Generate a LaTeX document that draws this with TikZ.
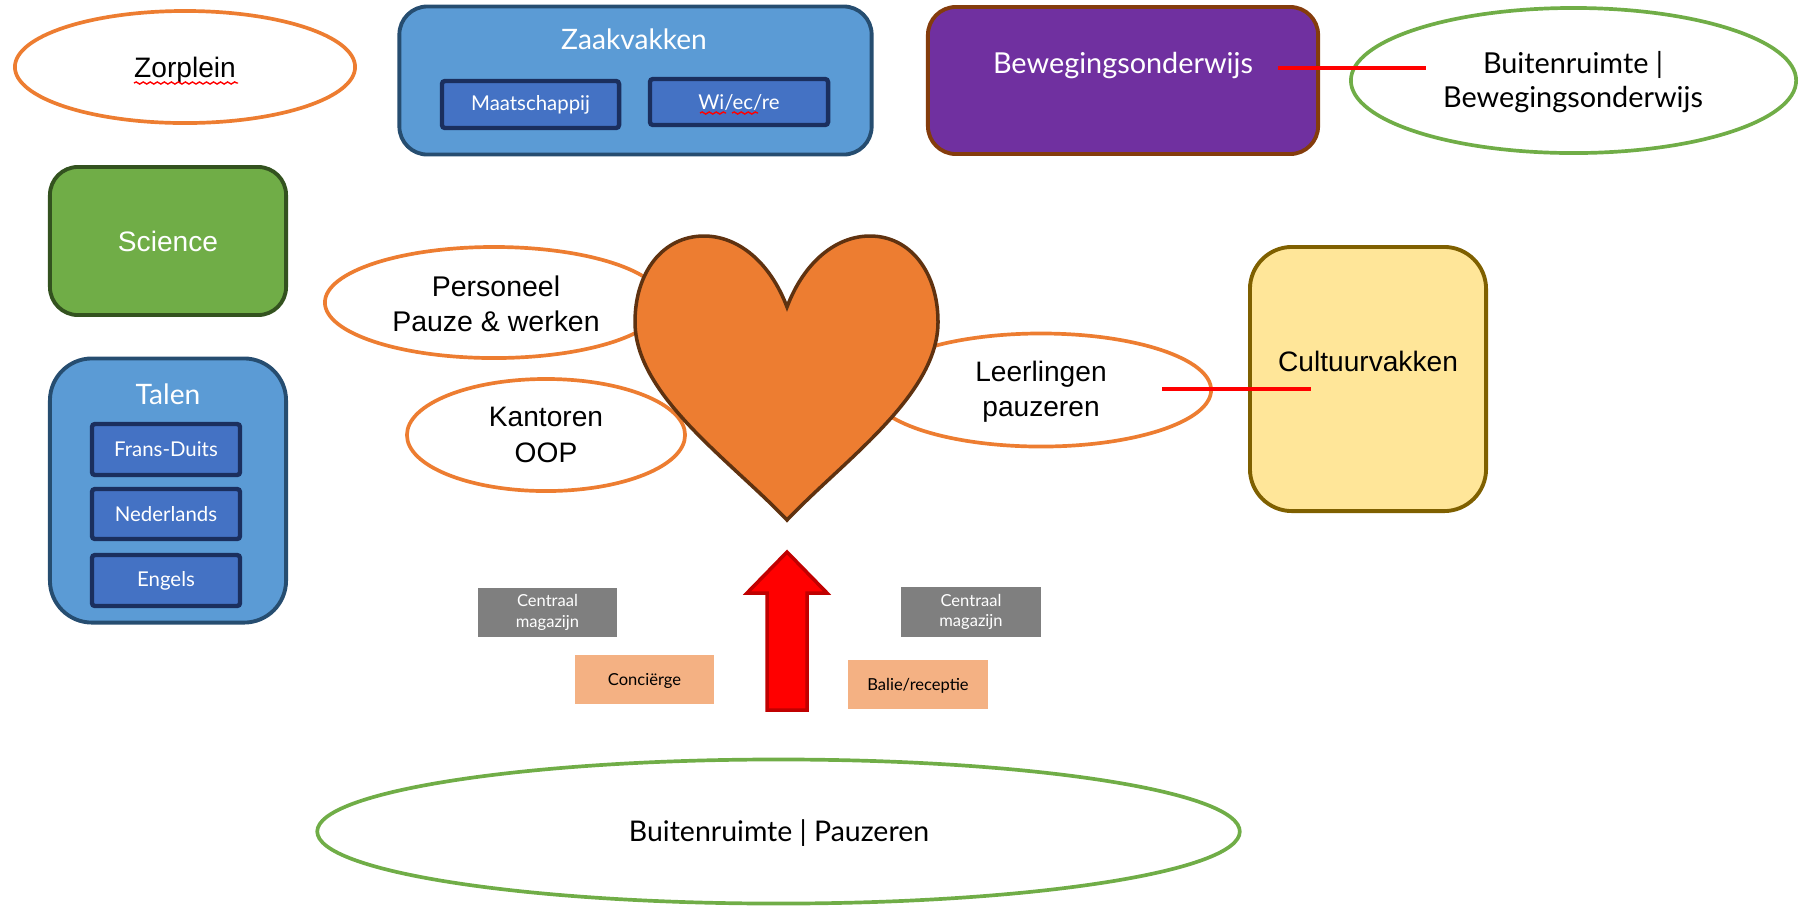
\documentclass[tikz,border=0pt]{standalone}
\usepackage{fontspec}
\newfontfamily\arialfont{Liberation Sans}
\newfontfamily\avfont{Lato}
\usetikzlibrary{shapes.geometric, decorations.pathmorphing}

\definecolor{zaakblue}{HTML}{5B9BD5}
\definecolor{zaakline}{HTML}{264D70}
\definecolor{vakblue}{HTML}{4472C4}
\definecolor{vakline}{HTML}{1B2F5E}
\definecolor{sciencegreen}{HTML}{70AD47}
\definecolor{scienceline}{HTML}{33521F}
\definecolor{sportpurple}{HTML}{7030A0}
\definecolor{sportline}{HTML}{843C0C}
\definecolor{cultuuryellow}{HTML}{FFE699}
\definecolor{cultuurline}{HTML}{7F6000}
\definecolor{hartorange}{HTML}{ED7D31}
\definecolor{hartline}{HTML}{5F3210}
\definecolor{magazijngray}{HTML}{7F7F7F}
\definecolor{balieorange}{HTML}{F4B183}
\definecolor{pijlline}{HTML}{C00000}

\tikzset{
  hoofdvak/.style={draw, line width=1.1pt, inner sep=0pt, text=white, font=\avfont\fontsize{8}{10}\selectfont},
  subvak/.style={draw=vakline, fill=vakblue, line width=1.25pt, rounded corners=0.03cm, inner sep=0pt, text=white, font=\avfont\fontsize{5.8}{7}\selectfont},
  ruimte/.style={ellipse, draw=hartorange, fill=white, line width=1.05pt, inner sep=0pt, font=\arialfont\fontsize{8}{10}\selectfont, align=center},
  buiten/.style={ellipse, draw=sciencegreen, line width=1.05pt, inner sep=0pt, font=\avfont\fontsize{8.1}{10}\selectfont, align=center},
  klein/.style={inner sep=0pt, font=\avfont\fontsize{4.7}{5.9}\selectfont, align=center},
  rode lijn/.style={draw=red, line width=1.35pt},
  spelfout/.style={draw=red, line width=0.4pt, decorate, decoration={snake, amplitude=0.3pt, segment length=2pt}}
}

\begin{document}
\begin{tikzpicture}[x=0.01cm, y=-0.01cm]
\useasboundingbox (0, 0) rectangle (1804, 905);

% bovenste rij
\node[ruimte, minimum width=3.4cm, minimum height=1.12cm] (zorplein) at (185, 67) {};
\node[inner sep=0pt, font=\arialfont\fontsize{8}{10}\selectfont] (zorpleintekst) at (185, 70) {Zorplein};
\draw[spelfout] (134, 83) -- (238, 83);

\node[hoofdvak, draw=zaakline, fill=zaakblue, rounded corners=0.28cm, minimum width=4.72cm, minimum height=1.48cm] (zaakvakken) at (635.5, 80.5) {};
\node[text=white, inner sep=0pt, font=\avfont\fontsize{8}{10}\selectfont] (zaaktitel) at (634, 39) {Zaakvakken};
\node[subvak, minimum width=1.77cm, minimum height=0.47cm] (maatschappij) at (530.5, 104.5) {Maatschappij};
\node[subvak, minimum width=1.78cm, minimum height=0.46cm] (wiecre) at (739, 102) {Wi/ec/re};
\draw[spelfout] (700, 113) -- (726, 113);
\draw[spelfout] (732, 113) -- (758, 113);

\node[hoofdvak, draw=sportline, fill=sportpurple, rounded corners=0.28cm, minimum width=3.9cm, minimum height=1.47cm] (beweging) at (1123, 80.5) {};
\node[text=white, inner sep=0pt, font=\avfont\fontsize{8.2}{10}\selectfont] (bewegingtitel) at (1123, 65) {Bewegingsonderwijs};
\node[buiten, minimum width=4.45cm, minimum height=1.45cm] (buitenbeweging) at (1573.5, 80.5) {};
\node[inner sep=0pt, align=center, font=\avfont\fontsize{8.2}{9.9}\selectfont] (buitenbewegingtekst) at (1573, 82) {Buitenruimte |\\Bewegingsonderwijs};
\coordinate (bewegingbegin) at (1277.5, 68);
\coordinate (bewegingeind) at (1425.5, 68);
\draw[rode lijn] (bewegingbegin) -- (bewegingeind);

% linker kolom
\node[hoofdvak, draw=scienceline, fill=sciencegreen, rounded corners=0.28cm, minimum width=2.36cm, minimum height=1.48cm, font=\arialfont\fontsize{8}{10}\selectfont] (science) at (168, 241) {Science};

\node[hoofdvak, draw=zaakline, fill=zaakblue, rounded corners=0.42cm, minimum width=2.36cm, minimum height=2.64cm] (talen) at (168, 490.5) {};
\node[text=white, inner sep=0pt, font=\avfont\fontsize{8}{10}\selectfont] (talentitel) at (168, 394) {Talen};
\node[subvak, minimum width=1.48cm, minimum height=0.51cm] (fransduits) at (166, 449.5) {Frans-Duits};
\node[subvak, minimum width=1.48cm, minimum height=0.5cm] (nederlands) at (166, 514) {Nederlands};
\node[subvak, minimum width=1.48cm, minimum height=0.51cm] (engels) at (166, 580.5) {Engels};

% ellipsen achter het hart
\node[ruimte, minimum width=3.38cm, minimum height=1.11cm] (personeel) at (494, 302.5) {};
\node[inner sep=0pt, align=center, font=\arialfont\fontsize{8.1}{10}\selectfont] (personeeltekst) at (496, 304) {Personeel\\Pauze \& werken};
\node[ruimte, minimum width=2.78cm, minimum height=1.12cm] (kantoren) at (546, 435) {Kantoren\\OOP};
\node[ruimte, minimum width=3.4cm, minimum height=1.13cm] (leerlingen) at (1041, 390) {};
\node[inner sep=0pt, align=center, font=\arialfont\fontsize{8}{10}\selectfont] (leerlingentekst) at (1041, 392) {Leerlingen\\pauzeren};

\draw[draw=hartline, fill=hartorange, line width=1pt, line join=miter]
  (787, 307) .. controls (770, 262) and (738, 236) .. (704, 236)
  .. controls (663, 236) and (635, 272) .. (635, 322)
  .. controls (635, 395) and (730, 460) .. (787, 520)
  .. controls (844, 460) and (938, 395) .. (938, 322)
  .. controls (938, 272) and (910, 236) .. (870, 236)
  .. controls (836, 236) and (804, 262) .. (787, 307) -- cycle;

% rechter kolom
\node[hoofdvak, draw=cultuurline, fill=cultuuryellow, rounded corners=0.42cm, minimum width=2.36cm, minimum height=2.64cm] (cultuurvakken) at (1368, 379) {};
\node[inner sep=0pt, font=\arialfont\fontsize{8}{10}\selectfont] (cultuurtekst) at (1368, 361) {Cultuurvakken};
\coordinate (cultuurbegin) at (1162, 389);
\coordinate (cultuureind) at (1311, 389);
\draw[rode lijn] (cultuurbegin) -- (cultuureind);

% onderkant
\draw[draw=pijlline, fill=red, line width=1pt, line join=miter]
  (787, 552) -- (827, 593) -- (807, 593) -- (807, 710) -- (767, 710) -- (767, 593) -- (747, 593) -- cycle;

\node[klein, fill=magazijngray, text=white, minimum width=1.39cm, minimum height=0.49cm] (magazijnlinks) at (547.5, 612.5) {Centraal\\magazijn};
\node[klein, fill=magazijngray, text=white, minimum width=1.4cm, minimum height=0.5cm] (magazijnrechts) at (971, 612) {Centraal\\magazijn};
\node[klein, fill=balieorange, text depth=0pt, minimum width=1.39cm, minimum height=0.49cm] (concierge) at (644.5, 679) {Conciërge};
\node[klein, fill=balieorange, text depth=0pt, minimum width=1.4cm, minimum height=0.49cm] (balie) at (918, 684.5) {Balie/receptie};

\node[buiten, minimum width=9.22cm, minimum height=1.44cm] (buitenpauze) at (778.5, 831.5) {};
\node[inner sep=0pt, font=\avfont\fontsize{8.1}{10}\selectfont] (buitenpauzetekst) at (779, 833) {Buitenruimte | Pauzeren};
\end{tikzpicture}
\end{document}
